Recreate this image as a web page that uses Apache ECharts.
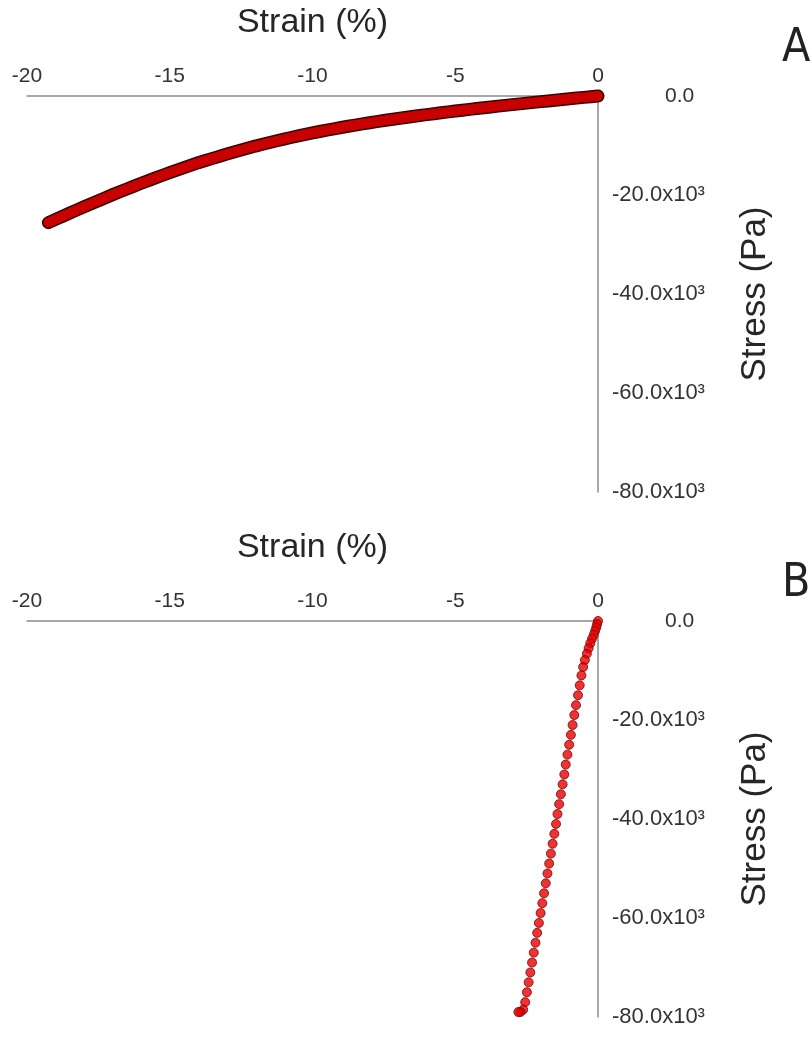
<!DOCTYPE html>
<html>
<head>
<meta charset="utf-8">
<script src="https://cdn.jsdelivr.net/npm/echarts@6/dist/echarts.min.js"></script>
<style>
html,body{margin:0;padding:0;background:#fff;}
#chart{width:812px;height:1050px;}
</style>
</head>
<body>
<div id="chart"></div>
<script>
// ---- Data ----
const xTickValues = [-20, -15, -10, -5, 0];
const xTickLabels = ['-20', '-15', '-10', '-5', '0'];
const yTickValues = [0, -20000, -40000, -60000, -80000];
const yTickLabels = ['0.0', '-20.0x10³', '-40.0x10³', '-60.0x10³', '-80.0x10³'];
const xAxisTitle = 'Strain (%)';
const yAxisTitle = 'Stress (Pa)';
const panelLabels = ['A', 'B'];

// Panel A: strain (%) and stress (Pa)
const strainA = [0,-0.25,-0.5,-0.75,-1,-1.25,-1.5,-1.75,-2,-2.25,-2.5,-2.75,-3,-3.25,-3.5,-3.75,-4,-4.25,-4.5,-4.75,-5,-5.25,-5.5,-5.75,-6,-6.25,-6.5,-6.75,-7,-7.25,-7.5,-7.75,-8,-8.25,-8.5,-8.75,-9,-9.25,-9.5,-9.75,-10,-10.25,-10.5,-10.75,-11,-11.25,-11.5,-11.75,-12,-12.25,-12.5,-12.75,-13,-13.25,-13.5,-13.75,-14,-14.25,-14.5,-14.75,-15,-15.25,-15.5,-15.75,-16,-16.25,-16.5,-16.75,-17,-17.25,-17.5,-17.75,-18,-18.25,-18.5,-18.75,-19,-19.25];
const stressA = [0,-140,-280,-420,-560,-705,-850,-995,-1140,-1290,-1440,-1590,-1740,-1895,-2050,-2210,-2370,-2535,-2700,-2870,-3040,-3215,-3395,-3575,-3760,-3950,-4145,-4340,-4540,-4750,-4960,-5180,-5400,-5635,-5870,-6115,-6360,-6625,-6895,-7170,-7450,-7755,-8065,-8380,-8700,-9050,-9400,-9760,-10120,-10515,-10915,-11315,-11720,-12155,-12595,-13035,-13480,-13975,-14475,-14975,-15480,-16015,-16550,-17090,-17630,-18200,-18775,-19350,-19930,-20540,-21150,-21765,-22380,-23015,-23650,-24290,-24930,-25570];

// Panel B: strain (%) and stress (Pa)
const strainB = [0,-0.03,-0.06,-0.1,-0.15,-0.21,-0.27,-0.33,-0.39,-0.46,-0.52,-0.58,-0.64,-0.7,-0.77,-0.83,-0.89,-0.95,-1.01,-1.07,-1.13,-1.18,-1.24,-1.3,-1.36,-1.42,-1.47,-1.53,-1.59,-1.65,-1.71,-1.77,-1.83,-1.89,-1.95,-2.01,-2.07,-2.13,-2.19,-2.25,-2.31,-2.37,-2.43,-2.49,-2.55,-2.62,-2.72,-2.79];
const stressB = [0,-600,-1300,-2000,-2800,-3600,-4500,-5500,-6600,-7900,-9300,-11000,-13000,-15000,-17000,-19000,-21000,-23000,-25000,-27000,-29000,-31000,-33000,-35000,-37000,-39000,-41000,-43000,-45000,-47000,-49000,-51000,-53000,-55000,-57000,-59000,-61000,-63000,-65000,-67000,-69000,-71000,-73000,-75000,-77000,-78500,-79000,-79000];

// ---- Chart ----
const FONT = '"Liberation Sans", Arial, sans-serif';
const NARROW = '"Liberation Sans Narrow", "DejaVu Sans Condensed", Arial, sans-serif';
const chart = echarts.init(document.getElementById('chart'), null, {renderer: 'canvas'});

function pairs(xs, ys) { return xs.map((x, i) => [x, ys[i]]); }

const gridTops = [96, 621];
const gridHeight = 396;

function xAxisFor(i) {
  return {
    gridIndex: i, type: 'value', position: 'top',
    min: -20, max: 0, interval: 5,
    name: xAxisTitle, nameLocation: 'middle', nameGap: 56,
    nameTextStyle: {fontFamily: FONT, fontSize: 34, color: '#262626'},
    axisLine: {show: true, onZero: false, lineStyle: {color: '#8c8c8c', width: 1.5}},
    axisTick: {show: false},
    splitLine: {show: false},
    axisLabel: {
      margin: 9, fontFamily: FONT, fontSize: 21, color: '#333',
      formatter: v => { const k = xTickValues.indexOf(v); return k >= 0 ? xTickLabels[k] : ''; }
    }
  };
}
function yAxisFor(i) {
  return {
    gridIndex: i, type: 'value', position: 'right',
    min: -80000, max: 0, interval: 20000,
    name: yAxisTitle, nameLocation: 'middle', nameGap: 140, nameRotate: 90,
    nameTextStyle: {fontFamily: FONT, fontSize: 35, color: '#262626'},
    axisLine: {show: true, onZero: false, lineStyle: {color: '#8c8c8c', width: 1.5}},
    axisTick: {show: false},
    splitLine: {show: false},
    axisLabel: {
      margin: 14, fontFamily: FONT, fontSize: 22, color: '#333', align: 'left',
      formatter: v => {
        const k = yTickValues.indexOf(v);
        if (k < 0) return '';
        return v === 0 ? '{z|' + yTickLabels[k] + '}' : '{n|' + yTickLabels[k] + '}';
      },
      rich: {
        z: {fontFamily: FONT, fontSize: 21, color: '#333', padding: [0, 0, 0, 53]},
        n: {fontFamily: FONT, fontSize: 22, color: '#333'}
      }
    }
  };
}

const option = {
  backgroundColor: '#ffffff',
  animation: false,
  grid: gridTops.map(t => ({left: 27, width: 571, top: t, height: gridHeight, containLabel: false})),
  xAxis: [xAxisFor(0), xAxisFor(1)],
  yAxis: [yAxisFor(0), yAxisFor(1)],
  series: [
    {
      type: 'line', xAxisIndex: 0, yAxisIndex: 0, clip: false, silent: true,
      data: pairs(strainA, stressA), showSymbol: false, symbol: 'none',
      lineStyle: {color: '#3a0000', width: 13, cap: 'round', join: 'round'}
    },
    {
      type: 'line', xAxisIndex: 0, yAxisIndex: 0, clip: false, silent: true,
      data: pairs(strainA, stressA), showSymbol: false, symbol: 'none',
      lineStyle: {color: '#c80000', width: 10, cap: 'round', join: 'round'}
    },
    {
      type: 'scatter', xAxisIndex: 1, yAxisIndex: 1, clip: false,
      data: pairs(strainB, stressB), symbol: 'circle', symbolSize: 9,
      itemStyle: {color: '#e80000', borderColor: '#7a0000', borderWidth: 1}
    }
  ],
  graphic: [
    {type: 'text', left: 782, top: 26, style: {text: panelLabels[0], fontFamily: NARROW, fontSize: 46, fill: '#222'}},
    {type: 'text', left: 782, top: 561, style: {text: panelLabels[1], fontFamily: NARROW, fontSize: 46, fill: '#222'}}
  ]
};
chart.setOption(option);
</script>
</body>
</html>
